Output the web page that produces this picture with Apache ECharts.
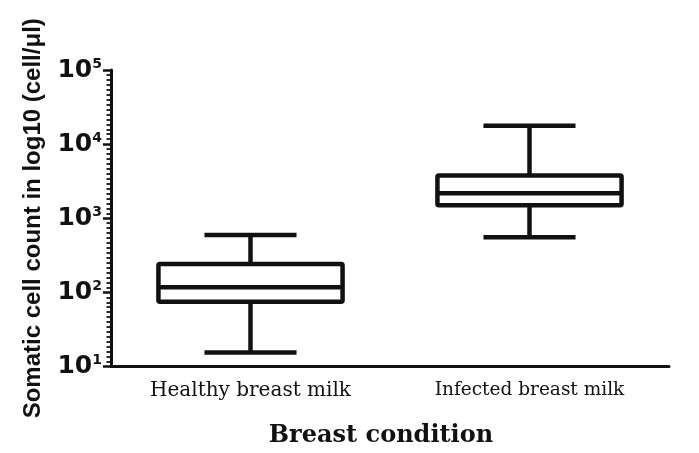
<!DOCTYPE html>
<html>
<head>
<meta charset="utf-8">
<script src="https://cdn.jsdelivr.net/npm/echarts@6/dist/echarts.min.js"></script>
<style>html,body{margin:0;padding:0;background:#fff}#c{width:699px;height:453px}</style>
</head>
<body>
<div id="c"></div>
<script>
// Data (cells/µl): [min, Q1, median, Q3, max]
const categories = ['Healthy breast milk', 'Infected breast milk'];
const healthyBox = [15.5, 75, 117, 242, 595];
const infectedBox = [554, 1500, 2180, 3760, 17700];
const yTickExponents = ['1', '2', '3', '4', '5'];
const yTitle = 'Somatic cell count in log10 (cell/\u03bcl)';
const xTitle = 'Breast condition';

const boxRows = [healthyBox, infectedBox].map(function (b, i) { return [i].concat(b); });

const chart = echarts.init(document.getElementById('c'), null, {renderer: 'canvas'});

function renderBox(params, api) {
  const ci = api.value(0);
  const vMin = api.value(1), q1 = api.value(2), med = api.value(3), q3 = api.value(4), vMax = api.value(5);
  const band = api.size([1, 0])[0];
  const halfBox = band * 0.33;
  const halfCap = halfBox / 2;
  const pMin = api.coord([ci, vMin]);
  const pQ1 = api.coord([ci, q1]);
  const pMed = api.coord([ci, med]);
  const pQ3 = api.coord([ci, q3]);
  const pMax = api.coord([ci, vMax]);
  const cx = pMed[0];
  const st = {stroke: '#111', lineWidth: 4.5, fill: null, lineCap: 'butt'};
  return {
    type: 'group',
    children: [
      {type: 'line', shape: {x1: cx, y1: pQ3[1], x2: cx, y2: pMax[1]}, style: st},
      {type: 'line', shape: {x1: cx - halfCap, y1: pMax[1], x2: cx + halfCap, y2: pMax[1]}, style: st},
      {type: 'line', shape: {x1: cx, y1: pQ1[1], x2: cx, y2: pMin[1]}, style: st},
      {type: 'line', shape: {x1: cx - halfCap, y1: pMin[1], x2: cx + halfCap, y2: pMin[1]}, style: st},
      {type: 'rect', shape: {x: cx - halfBox, y: pQ3[1], width: halfBox * 2, height: pQ1[1] - pQ3[1], r: 1.5},
        style: {fill: '#ffffff', stroke: '#111', lineWidth: 4.5, lineJoin: 'round'}},
      {type: 'line', shape: {x1: cx - halfBox, y1: pMed[1], x2: cx + halfBox, y2: pMed[1]}, style: st}
    ]
  };
}

const option = {
  backgroundColor: '#ffffff',
  animation: false,
  grid: {left: 111, right: 30, top: 70, bottom: 86.5},
  xAxis: {
    type: 'category',
    data: categories,
    name: xTitle,
    nameLocation: 'middle',
    nameGap: 57,
    nameTextStyle: {fontFamily: 'DejaVu Serif', fontWeight: 'bold', fontSize: 24, color: '#111', padding: [0, 18, 0, 0]},
    axisLine: {lineStyle: {color: '#111', width: 3}},
    axisTick: {alignWithLabel: true, length: 6, lineStyle: {color: '#111', width: 2.5}},
    axisLabel: {
      margin: 14,
      color: '#111',
      formatter: function (v, i) { return i === 0 ? '{h|' + v + '}' : '{f|' + v + '}'; },
      rich: {
        h: {fontFamily: 'DejaVu Serif', fontSize: 20, color: '#111'},
        f: {fontFamily: 'DejaVu Serif', fontSize: 18.5, color: '#111'}
      }
    },
    splitLine: {show: false}
  },
  yAxis: [{
    type: 'log',
    logBase: 10,
    min: 10,
    max: 100000,
    interval: 1,
    name: yTitle,
    nameLocation: 'middle',
    nameGap: 66,
    nameTextStyle: {fontFamily: 'Liberation Sans', fontWeight: 'bold', fontSize: 24, color: '#111'},
    axisLine: {show: true, lineStyle: {color: '#111', width: 3}},
    axisTick: {show: true, length: 8, lineStyle: {color: '#111', width: 2.5}},
    minorTick: {show: false},
    splitLine: {show: false},
    axisLabel: {
      margin: 9,
      formatter: function (v) {
        const e = Math.round(Math.log10(v));
        return '{a|10}{b|' + yTickExponents[e - 1] + '}';
      },
      rich: {
        a: {fontFamily: 'DejaVu Sans', fontWeight: 'bold', fontSize: 25, lineHeight: 26, color: '#111'},
        b: {fontFamily: 'DejaVu Sans', fontWeight: 'bold', fontSize: 14, lineHeight: 14, verticalAlign: 'top', color: '#111'}
      }
    }
  }, {
    // exponent scale sharing the same pixels, used only for the evenly spaced minor ticks
    type: 'value',
    position: 'left',
    min: 1,
    max: 5,
    interval: 1,
    axisLine: {show: false},
    axisTick: {show: true, length: 8, lineStyle: {color: '#111', width: 2.5}},
    minorTick: {show: true, splitNumber: 15, length: 4.5, lineStyle: {color: '#111', width: 1.8}},
    axisLabel: {show: false},
    splitLine: {show: false},
    minorSplitLine: {show: false}
  }],
  series: [{
    type: 'custom',
    yAxisIndex: 0,
    renderItem: renderBox,
    encode: {x: 0, y: [1, 2, 3, 4, 5]},
    data: boxRows,
    silent: true
  }]
};
chart.setOption(option);
</script>
</body>
</html>
